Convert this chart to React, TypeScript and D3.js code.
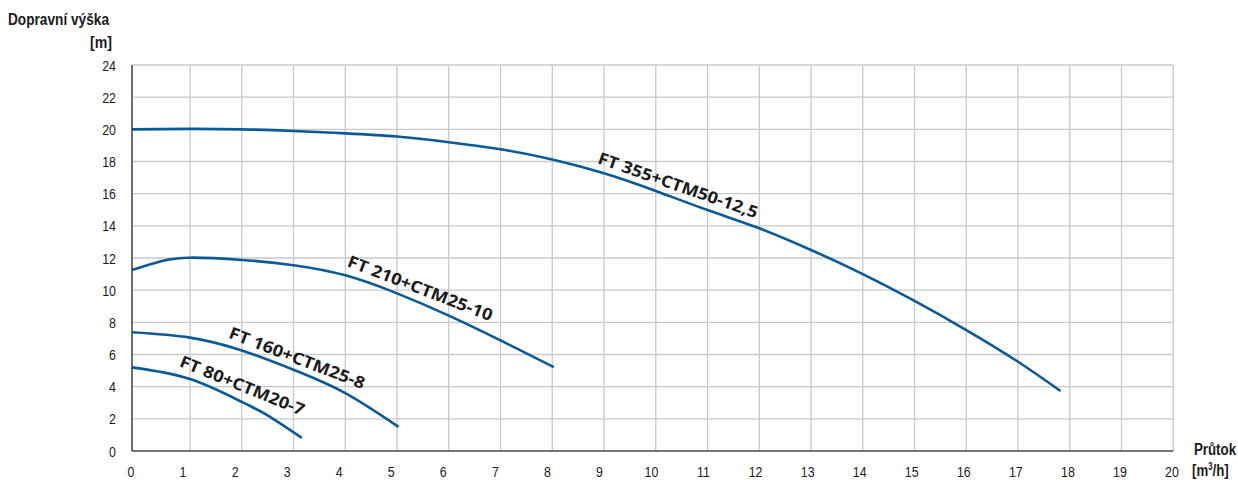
import React from "react";
import * as d3 from "d3";

// ---- data ----
const xTicks = d3.range(0, 21, 1);
const yTicks = d3.range(0, 25, 2);

const ft355X = [0, 1, 2, 3, 4, 5, 6, 7, 8, 9, 10, 11, 12, 13, 14, 15, 16, 17, 17.82];
const ft355Y = [20.0, 20.03, 20.0, 19.9, 19.75, 19.55, 19.2, 18.76, 18.13, 17.27, 16.17, 14.98, 13.85, 12.5, 11.0, 9.33, 7.52, 5.55, 3.73];

const ft210X = [0, 0.5, 1, 2, 3, 4, 5, 6, 7, 8.03];
const ft210Y = [11.25, 11.8, 12.02, 11.88, 11.55, 10.92, 9.8, 8.42, 6.88, 5.22];

const ft160X = [0, 1, 2, 3, 4, 5.03];
const ft160Y = [7.38, 7.05, 6.25, 5.05, 3.6, 1.5];

const ft80X = [0, 1, 2, 2.5, 3.16];
const ft80Y = [5.2, 4.47, 3.05, 2.22, 0.82];

const seriesNames = ["FT 355+CTM50-12,5", "FT 210+CTM25-10", "FT 160+CTM25-8", "FT 80+CTM20-7"];
const seriesXs = [ft355X, ft210X, ft160X, ft80X];
const seriesYs = [ft355Y, ft210Y, ft160Y, ft80Y];
// label: start of baseline [x value, y value], rotation (deg), length (px)
const labelAnchors = [
  [8.86, 17.9, 19.2, 168],
  [4.02, 11.5, 21, 154],
  [1.73, 7.05, 21, 144],
  [0.8, 5.28, 22, 133],
];

const W = 1238;
const H = 480;
const BLUE = "#0a5a98";
const TEXT = "#1b1b1b";
const GRID = "#c9c9c9";
const AXIS = "#4a4a4a";

export default function App() {
  // the reference's first grid column is wider than the others
  const x = d3.scaleLinear().domain([0, 1, 20]).range([132, 190, 1173.3]);
  const xLab = d3.scaleLinear().domain([0, 20]).range([131, 1172]);
  const y = d3.scaleLinear().domain([0, 24]).range([451, 65]);

  const line = d3
    .line<[number, number]>()
    .x((d) => x(d[0]))
    .y((d) => y(d[1]))
    .curve(d3.curveNatural);

  const narrow = "'Liberation Sans', Arial, sans-serif";

  return (
    <svg
      width={W}
      height={H}
      style={{ position: "absolute", left: 0, top: 0, background: "#fff" }}
      xmlns="http://www.w3.org/2000/svg"
    >
      {/* grid */}
      <g stroke={GRID} strokeWidth={1.3}>
        {xTicks
          .filter((t) => t > 0)
          .map((t) => (
            <line key={"gx" + t} x1={x(t)} x2={x(t)} y1={y(0)} y2={y(24)} />
          ))}
        {yTicks
          .filter((t) => t > 0)
          .map((t) => (
            <line key={"gy" + t} x1={x(0)} x2={x(20)} y1={y(t)} y2={y(t)} />
          ))}
      </g>
      {/* axes */}
      <g stroke={AXIS} strokeWidth={1.6}>
        <line x1={x(0)} x2={x(0)} y1={y(24)} y2={y(0)} />
        <line x1={x(0)} x2={x(20)} y1={y(0)} y2={y(0)} />
      </g>
      {/* tick labels */}
      <g fill={TEXT} fontFamily={narrow} fontSize={15.5}>
        {yTicks.map((t) => (
          <text
            key={"ty" + t}
            transform={`translate(116 ${y(t) + 5.6}) scale(0.8 1)`}
            textAnchor="end"
          >
            {t}
          </text>
        ))}
        {xTicks.map((t) => (
          <text
            key={"tx" + t}
            transform={`translate(${xLab(t)} 476.5) scale(0.8 1)`}
            textAnchor="middle"
          >
            {t}
          </text>
        ))}
      </g>
      {/* axis titles */}
      <g fill={TEXT} fontFamily={narrow} fontWeight="bold" fontSize={17}>
        <text x={8} y={25} textLength={101} lengthAdjust="spacingAndGlyphs">
          Dopravní výška
        </text>
        <text x={90} y={48} textLength={22} lengthAdjust="spacingAndGlyphs">
          [m]
        </text>
        <g transform="translate(1236 455) scale(0.78 1)">
          <text x={0} y={0} textAnchor="end">
            Průtok
          </text>
        </g>
        <g transform="translate(1192 476) scale(0.78 1)">
          <text x={0} y={0}>
            [m<tspan dy={-6} fontSize={10}>3</tspan>
            <tspan dy={6}>/h]</tspan>
          </text>
        </g>
      </g>
      {/* curves */}
      <g fill="none" stroke={BLUE} strokeWidth={2.6} strokeLinecap="butt">
        {seriesXs.map((xs, i) => (
          <path
            key={"c" + i}
            d={line(xs.map((v, j) => [v, seriesYs[i][j]] as [number, number])) || ""}
          />
        ))}
      </g>
      {/* curve labels */}
      <g fill={TEXT} fontFamily="'Open Sans', sans-serif" fontWeight="bold" fontSize={16.5}>
        {seriesNames.map((name, i) => {
          const [lx, ly, rot, len] = labelAnchors[i];
          const px = x(lx);
          const py = y(ly);
          return (
            <text
              key={"l" + i}
              x={px}
              y={py}
              transform={`rotate(${rot} ${px} ${py})`}
              textLength={len}
              lengthAdjust="spacingAndGlyphs"
            >
              {name}
            </text>
          );
        })}
      </g>
    </svg>
  );
}
